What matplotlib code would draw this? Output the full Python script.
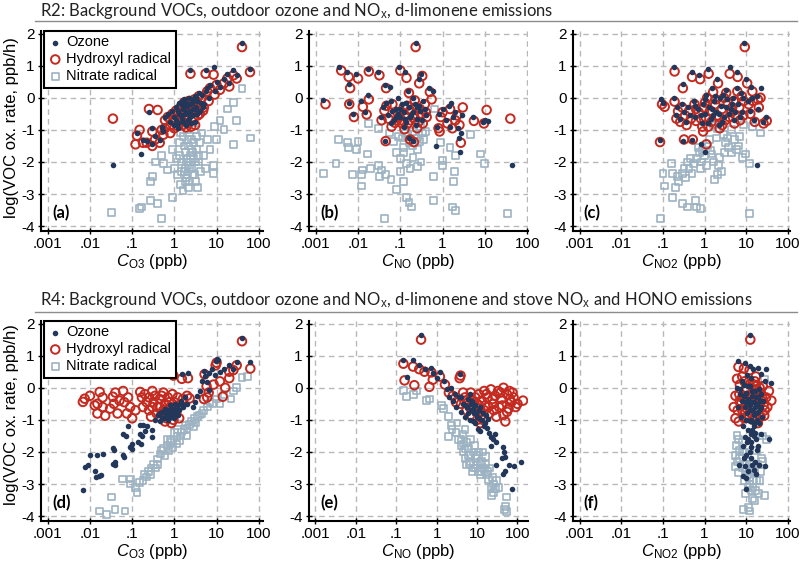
import matplotlib
matplotlib.use('Agg')
import matplotlib.pyplot as plt
import numpy as np
from matplotlib.lines import Line2D
from matplotlib.ticker import NullLocator

plt.rcParams['font.family'] = ['Liberation Sans', 'DejaVu Sans']
plt.rcParams['axes.unicode_minus'] = False
plt.rcParams['mathtext.fontset'] = 'custom'
plt.rcParams['mathtext.rm'] = 'Liberation Sans'
plt.rcParams['mathtext.it'] = 'Liberation Sans:italic'

# (x in ppb, log10 VOC oxidation rate) pairs
# ---- R2, panel (a): vs C_O3
a_o3 = [(0.035, -2.1), (0.16, -1.75), (0.13, -1.1), (0.18, -1.3), (0.22, -1.35), (0.3, -1.45),
        (0.3, -0.95), (0.35, -1.2), (0.45, -1.3), (0.5, -0.9), (0.55, -1.05), (0.6, -0.6),
        (0.7, -0.5), (0.8, -0.75), (0.9, -0.4), (1.0, -0.6), (1.1, -0.3), (1.2, -0.8), (1.3, -0.5),
        (1.4, -0.2), (1.5, -0.65), (1.6, -0.35), (1.7, -0.05), (1.8, -0.5), (2.0, -0.25),
        (2.1, -0.7), (2.2, 0.0), (2.4, -0.4), (2.4, 0.85), (2.6, -0.15), (2.8, -0.55), (3.0, 0.05),
        (3.2, -0.3), (3.5, -0.1), (3.8, 0.15), (4.0, -0.4), (4.5, 0.1), (5.0, -0.2), (5.5, 0.85),
        (6.0, 0.3), (6.5, 0.0), (7.0, 0.4), (8.5, 0.95), (9.0, 0.2), (10, 0.5), (12, 0.35),
        (15, 0.6), (18, 0.75), (20, 0.45), (25, 0.85), (30, 0.7), (40, 1.7), (62, 0.9),
        (0.25, -0.45), (1.9, -0.85), (2.3, -0.6), (2.7, -0.35), (3.1, -0.75), (3.4, -0.5),
        (1.25, -0.95), (1.55, -0.1), (2.0, -0.45), (2.5, -0.8), (1.1, -0.7), (4.2, -0.15),
        (1.2, -0.4), (1.4, -0.55), (1.6, -0.75), (1.7, -0.3), (1.9, -0.15), (2.1, -0.45),
        (2.3, -0.2), (2.5, -0.55), (2.7, -0.05), (2.9, -0.35), (3.3, 0.0), (3.6, -0.45),
        (1.0, -0.85), (1.3, -0.15), (4.8, -0.3), (5.5, 0.2)]
a_oh = [(0.035, -0.65), (0.13, -1.18), (0.12, -1.45), (0.18, -1.4), (0.22, -1.4), (0.3, -1.5),
        (0.3, -1.05), (0.35, -1.3), (0.45, -1.4), (0.5, -1.0), (0.55, -1.15), (0.6, -0.7),
        (0.7, -0.6), (0.8, -0.85), (0.9, -0.5), (1.0, -0.7), (1.1, -0.4), (1.2, -0.88), (1.3, -0.6),
        (1.4, -0.3), (1.5, -0.75), (1.6, -0.45), (1.7, -0.15), (1.8, -0.6), (2.0, -0.35),
        (2.1, -0.8), (2.2, -0.1), (2.4, -0.5), (2.4, 0.75), (2.6, -0.25), (2.8, -0.65), (3.0, -0.05),
        (3.2, -0.4), (3.5, -0.2), (3.8, 0.05), (4.0, -0.5), (4.5, 0.0), (5.0, -0.3), (5.5, 0.75),
        (6.0, 0.2), (6.5, -0.1), (7.0, 0.3), (8.5, 0.72), (9.0, 0.1), (10, 0.4), (12, 0.25),
        (15, 0.45), (18, 0.6), (20, 0.35), (25, 0.7), (30, 0.6), (40, 1.58), (62, 0.8),
        (0.25, -0.35), (0.4, -0.38), (0.15, -1.0), (1.9, -0.92), (3.1, -0.85), (2.5, -0.9),
        (1.2, -0.5), (1.4, -0.65), (1.6, -0.85), (1.7, -0.4), (1.9, -0.25), (2.1, -0.55),
        (2.3, -0.3), (2.7, -0.15), (2.9, -0.45), (3.3, -0.1), (3.6, -0.55), (1.0, -0.95),
        (4.8, -0.4), (0.8, -1.1), (0.6, -0.95)]
a_no3 = [(0.033, -3.57), (0.15, -3.45), (0.17, -3.4), (0.27, -3.2), (0.4, -3.3), (0.5, -3.75),
         (0.9, -3.1), (0.27, -2.6), (0.3, -2.45), (0.35, -2.0), (0.5, -1.8), (0.55, -2.05),
         (0.7, -2.25), (0.9, -1.6), (1.0, -2.2), (1.1, -1.9), (1.2, -2.4), (1.3, -1.4), (1.4, -2.7),
         (1.5, -2.0), (1.6, -1.2), (1.7, -2.3), (1.8, -1.7), (1.9, -2.5), (2.0, -1.0), (2.1, -2.1),
         (2.2, -1.5), (2.3, -2.6), (2.4, -1.8), (2.5, -2.2), (2.6, -1.3), (2.8, -1.9), (3.0, -2.4),
         (3.0, -1.0), (3.3, -1.6), (3.5, -2.8), (3.7, -2.0), (4.0, -1.4), (4.5, -1.1), (5.0, -1.8),
         (5.5, -2.2), (6.0, -1.3), (7.0, -1.6), (8.5, -2.1), (8.5, -2.35), (9.0, -0.9), (10, -1.3),
         (12, -0.7), (15, -1.0), (18, -0.35), (25, -0.15), (25, -1.45), (30, -0.7), (40, 0.3),
         (65, -1.25), (2.2, -2.8), (1.6, -2.9), (1.3, -1.8), (1.8, -2.2), (2.7, -1.7), (2.0, -2.4),
         (1.5, -2.3), (1.7, -1.5), (1.9, -2.0), (2.1, -1.3), (2.3, -2.2), (2.5, -1.6), (2.7, -2.4),
         (2.9, -1.4), (3.1, -2.0), (3.4, -1.2), (3.8, -1.8), (4.2, -2.3), (1.8, -2.6), (2.4, -2.0),
         (3.2, -2.6), (1.4, -1.1), (2.0, -1.9)]

# ---- R2, panel (b): vs C_NO
b_o3 = [(0.0015, -0.07), (0.0035, 0.96), (0.0056, 0.8), (0.009, 0.75), (0.017, 0.9), (0.006, 0.42),
        (0.006, -0.15), (0.0075, -0.5), (0.012, -0.1), (0.017, 0.1), (0.015, -0.45), (0.03, 0.8),
        (0.044, 0.4), (0.057, 0.35), (0.044, -1.35), (0.04, -0.3), (0.05, -0.55), (0.06, -0.1),
        (0.07, -0.7), (0.08, -0.35), (0.09, 0.0), (0.095, 0.95), (0.1, -0.6), (0.11, -0.2),
        (0.12, -0.45), (0.13, 0.8), (0.14, -0.75), (0.15, 0.2), (0.16, -0.3), (0.16, -1.25),
        (0.18, -0.55), (0.2, -1.35), (0.2, 0.0), (0.22, -0.2), (0.23, 1.7), (0.25, -0.65),
        (0.27, 0.6), (0.3, -0.4), (0.31, 0.75), (0.35, -0.1), (0.4, -0.55), (0.47, 0.3), (0.6, 0.2),
        (0.7, -1.5), (0.75, -0.9), (0.8, -0.5), (1.0, -0.35), (1.2, -0.7), (1.4, -0.25),
        (1.6, -0.15), (1.5, -0.9), (1.8, -0.6), (2.0, -0.45), (2.3, -0.95), (2.4, -1.25),
        (2.7, -1.1), (2.6, -1.7), (2.8, -0.55), (5.2, -0.6), (9.0, -0.75), (10, -0.7), (12, -0.72),
        (45, -2.1), (0.09, -0.5), (0.13, -0.65), (0.25, -0.3), (0.065, -0.4),
        (0.06, -0.8), (0.08, -0.6), (0.1, -0.35), (0.12, -0.9), (0.14, -0.15), (0.17, -0.6),
        (0.2, -0.45), (0.24, -0.85), (0.28, -0.25), (0.33, -0.7), (0.38, -0.35), (0.045, -0.15),
        (0.035, -0.6)]
b_oh = [(0.0017, -0.2), (0.004, 0.85), (0.006, 0.65), (0.01, 0.6), (0.018, 0.82), (0.0065, 0.3),
        (0.0062, -0.2), (0.008, -0.6), (0.013, -0.28), (0.018, -0.05), (0.016, -0.52), (0.032, 0.7),
        (0.046, 0.3), (0.045, -1.35), (0.042, -0.4), (0.052, -0.65), (0.065, -0.2), (0.075, -0.78),
        (0.085, -0.45), (0.1, 0.85), (0.105, -0.7), (0.12, -0.3), (0.13, -0.55), (0.14, 0.62),
        (0.15, -0.8), (0.16, 0.15), (0.17, -0.4), (0.17, -1.3), (0.2, -0.62), (0.21, -1.38),
        (0.22, -0.08), (0.24, -0.3), (0.23, 1.58), (0.27, -0.75), (0.28, 0.45), (0.32, -0.5),
        (0.33, 0.68), (0.38, -0.2), (0.42, -0.6), (0.5, 0.18), (0.55, -0.05), (0.8, -0.95),
        (0.85, -1.05), (0.9, -0.6), (1.0, -0.45), (1.3, -0.8), (1.5, -0.35), (1.7, -0.95),
        (2.0, -0.7), (2.2, -0.55), (2.5, -0.85), (2.7, -1.4), (3.0, -0.3), (5.5, -0.72),
        (9.5, -0.8), (11, -0.38), (40, -0.65), (0.095, -0.6), (0.11, -0.8),
        (0.062, -0.9), (0.083, -0.7), (0.1, -0.45), (0.125, -0.98), (0.145, -0.25), (0.175, -0.7),
        (0.21, -0.55), (0.25, -0.95), (0.29, -0.35), (0.34, -0.8), (0.4, -0.45), (0.047, -0.25),
        (0.036, -0.7)]
b_no3 = [(0.0015, -2.35), (0.003, -2.05), (0.0035, -1.3), (0.0056, -1.4), (0.006, -1.55),
         (0.0075, -2.4), (0.009, -1.6), (0.01, -1.35), (0.012, -2.75), (0.012, -2.4), (0.013, -2.25),
         (0.017, -1.75), (0.02, -2.2), (0.018, -0.8), (0.03, -0.95), (0.03, -2.1), (0.032, -2.45),
         (0.036, -2.25), (0.045, -2.4), (0.042, -3.75), (0.055, -1.1), (0.06, -2.55), (0.07, -1.35),
         (0.08, -1.7), (0.08, -2.85), (0.1, -1.9), (0.1, -2.3), (0.12, -1.55), (0.12, -2.6),
         (0.14, -2.05), (0.14, -3.1), (0.16, -3.25), (0.18, -3.4), (0.17, -2.2), (0.2, -1.85),
         (0.25, -2.15), (0.28, -1.35), (0.31, -2.0), (0.33, -1.1), (0.65, -0.35), (0.62, -2.45),
         (0.62, -3.2), (0.9, -1.4), (1.0, -1.95), (1.0, -2.1), (1.5, -1.55), (1.8, -2.6),
         (1.9, -2.3), (1.7, -3.4), (2.0, -3.5), (2.0, -1.8), (4.5, -1.15), (8, -1.75), (10, -2.05),
         (35, -3.6), (0.15, -1.2), (0.2, -1.05), (0.25, -1.25), (0.09, -1.2), (0.3, -0.9),
         (0.11, -1.25), (0.13, -1.1), (0.16, -1.4), (0.19, -1.5), (0.22, -1.15), (0.26, -1.6),
         (0.35, -1.3), (0.12, -1.7), (0.4, -1.05)]

# ---- R2, panel (c): vs C_NO2
c_o3 = [(0.083, -1.33), (0.09, -0.05), (0.1, -0.15), (0.18, 0.96), (0.18, 0.0), (0.2, -0.55),
        (0.22, -0.3), (0.25, -0.65), (0.28, -0.2), (0.3, 0.42), (0.3, -1.35), (0.32, -0.45),
        (0.35, -0.75), (0.4, -0.3), (0.45, -0.55), (0.5, 0.8), (0.5, -1.3), (0.55, -0.1),
        (0.6, -0.6), (0.7, -0.35), (0.75, 0.7), (0.8, -1.45), (0.85, -0.8), (0.9, -0.2),
        (1.0, -1.7), (1.0, -0.5), (1.1, 0.1), (1.2, 0.9), (1.3, -0.3), (1.4, -0.65), (1.5, 0.3),
        (1.7, -0.1), (1.9, -0.45), (2.0, 0.6), (2.2, -0.85), (2.5, -0.25), (2.8, 0.1), (3.0, -0.6),
        (3.5, -0.05), (4.0, 0.95), (4.2, -0.35), (4.8, 0.0), (5.0, -0.7), (6.0, 0.8), (6.5, -0.2),
        (7.5, 0.15), (8.0, -0.45), (9.0, 1.7), (10, 0.6), (11, -0.1), (13, 0.35), (15, -0.7),
        (18, 0.05), (19, -0.35), (18, -2.1), (23, 0.3), (25, -0.75), (30, -0.6), (1.6, -0.55),
        (2.4, 0.0), (3.3, -0.3),
        (0.6, -0.25), (0.8, -0.55), (1.0, -0.05), (1.2, -0.8), (1.5, -0.35), (1.8, 0.05),
        (2.2, -0.5), (2.6, -0.75), (3.2, 0.25), (3.8, -0.5), (4.5, -0.2), (5.5, -0.45), (6.0, 0.3),
        (7.0, -0.6), (8.5, 0.0), (12, -0.4), (14, 0.0)]
c_oh = [(0.085, -1.38), (0.095, -0.2), (0.11, -0.28), (0.19, 0.82), (0.19, -0.12), (0.21, -0.65),
        (0.23, -0.42), (0.26, -0.75), (0.29, -0.3), (0.3, 0.3), (0.32, -1.3), (0.34, -0.55),
        (0.37, -0.85), (0.42, -0.42), (0.47, -0.65), (0.5, 0.65), (0.52, -1.3), (0.57, -0.2),
        (0.62, -0.72), (0.72, -0.45), (0.78, 0.58), (0.88, -0.9), (0.92, -1.05), (0.95, -0.3),
        (1.1, -1.45), (1.05, -0.6), (1.15, 0.0), (1.25, 0.75), (1.35, -0.4), (1.45, -0.75),
        (1.6, 0.18), (1.8, -0.2), (2.0, -0.55), (2.1, 0.45), (2.3, -0.95), (2.6, -0.35), (2.9, 0.0),
        (3.1, -0.7), (3.6, -0.15), (4.0, 0.75), (4.4, -0.45), (5.0, -0.1), (5.2, -0.8), (6.2, 0.65),
        (6.8, -0.3), (7.8, 0.05), (8.5, -0.55), (9.2, 1.58), (10.5, 0.45), (11.5, -0.2), (14, 0.2),
        (16, -0.75), (19, -0.05), (20, -0.3), (22, 0.0), (26, -0.8), (31, -0.72),
        (0.62, -0.35), (0.82, -0.65), (1.02, -0.15), (1.22, -0.9), (1.52, -0.45), (1.85, -0.05),
        (2.25, -0.6), (2.65, -0.85), (3.3, 0.15), (3.9, -0.6), (4.6, -0.3), (5.6, -0.55),
        (6.1, 0.2), (7.1, -0.7), (8.7, -0.1), (12.5, -0.5), (14.5, -0.1)]
c_no3 = [(0.088, -3.75), (0.1, -2.35), (0.11, -2.75), (0.16, -2.05), (0.17, -3.1), (0.17, -2.35),
         (0.2, -2.8), (0.22, -2.45), (0.24, -2.6), (0.3, -3.3), (0.38, -3.4), (0.3, -2.35),
         (0.32, -2.2), (0.38, -2.0), (0.45, -1.9), (0.5, -2.35), (0.6, -3.2), (0.65, -3.4),
         (0.8, -3.45), (0.7, -1.55), (0.9, -1.65), (1.0, -1.8), (1.1, -2.1), (1.2, -1.5),
         (1.3, -1.3), (1.4, -1.65), (1.6, -2.0), (1.7, -2.55), (2.0, -2.4), (2.3, -1.85),
         (2.6, -2.3), (2.8, -1.15), (3.2, -1.4), (3.7, -1.55), (4.5, -1.7), (4.5, -1.0),
         (5.2, -1.3), (6.5, -1.5), (8, -1.85), (8.5, -0.85), (9.5, -1.75), (12, -2.05), (14, -0.9),
         (22, -1.1), (12, -3.6), (1.6, -0.85), (2.0, -0.95), (0.8, -2.2), (1.9, -1.25), (3.0, -1.7),
         (0.35, -2.5), (0.42, -2.2), (0.55, -2.05), (0.65, -1.9), (0.75, -1.7), (0.85, -2.0),
         (1.5, -1.75), (2.2, -2.1), (3.5, -1.25), (5.8, -1.6), (7, -1.2)]

# ---- R4, panel (d): vs C_O3
d_o3 = [(0.0068, -3.18), (0.0075, -2.48), (0.009, -2.4), (0.013, -2.58), (0.014, -2.78),
        (0.016, -2.75), (0.01, -2.1), (0.015, -2.08), (0.02, -2.06), (0.018, -2.72), (0.035, -1.88),
        (0.037, -1.95), (0.035, -2.38), (0.04, -2.4), (0.04, -2.3), (0.06, -2.08), (0.065, -2.15),
        (0.09, -1.83), (0.1, -1.9), (0.06, -1.43), (0.07, -1.5), (0.08, -1.2), (0.14, -1.68),
        (0.16, -1.75), (0.1, -1.75), (0.15, -1.44), (0.17, -1.5), (0.2, -1.35), (0.22, -1.2),
        (0.18, -1.17), (0.3, -1.52), (0.3, -1.3), (0.15, -1.15), (0.35, -1.0), (0.4, -0.85),
        (0.45, -1.05), (0.5, -0.75), (0.55, -0.95), (0.6, -0.65), (0.65, -0.85), (0.7, -1.0),
        (0.75, -0.7), (0.8, -0.55), (0.85, -0.9), (0.9, -0.75), (1.0, -0.65), (1.1, -0.85),
        (1.2, -0.55), (1.3, -0.7), (1.4, -0.4), (1.6, -0.6), (1.8, -0.3), (2.0, -0.5), (2.8, -0.6),
        (3.0, -0.45), (3.5, -0.25), (4.0, -0.1), (4.5, 0.2), (5.0, 0.53), (5.2, 0.37), (6.0, 0.19),
        (6.5, -0.06), (6.5, 0.45), (8.0, 0.6), (9.0, 0.4), (9.5, 0.83), (10, 0.9), (11, 0.85),
        (12, 0.5), (15, 0.6), (20, 0.7), (25, 0.58), (30, 0.8), (40, 1.55), (63, 0.8),
        (0.95, 0.53), (1.5, 0.42), (2.1, 0.45), (0.5, -0.95), (0.7, -0.8), (1.0, -0.95),
        (0.6, -0.95), (0.75, -0.9), (0.85, -0.65), (0.95, -0.8), (1.05, -0.5), (1.15, -0.7),
        (1.25, -0.85), (1.5, -0.5), (0.65, -0.7), (0.45, -0.8)]
d_oh = [(0.0075, -0.34), (0.0068, -0.44), (0.015, -0.5), (0.013, -0.55), (0.017, -0.13),
        (0.015, -0.8), (0.023, -0.87), (0.02, -0.3), (0.035, -0.28), (0.037, -0.5), (0.03, -0.65),
        (0.045, -0.8), (0.05, -0.4), (0.061, -0.1), (0.065, -0.45), (0.075, -0.8), (0.09, -0.6),
        (0.08, -0.3), (0.1, -0.95), (0.12, -0.7), (0.155, -0.13), (0.17, -0.3), (0.2, -0.2),
        (0.22, -0.45), (0.25, -0.7), (0.28, -0.9), (0.3, -0.1), (0.32, -0.45), (0.35, -0.25),
        (0.4, -0.6), (0.45, -0.35), (0.5, -0.8), (0.55, -0.15), (0.6, -0.5), (0.65, -0.95),
        (0.7, -0.3), (0.8, -0.6), (0.85, -1.1), (0.9, -0.2), (1.0, -0.45), (1.1, -0.8), (1.2, -0.3),
        (1.4, -0.55), (1.6, -0.35), (2.0, -0.25), (2.3, -0.33), (0.95, 0.38), (1.5, 0.28),
        (2.1, 0.3), (5.0, -0.35), (5.8, 0.05), (6.0, -0.3), (6.5, -0.15), (8.5, 0.1), (12, 0.2),
        (14, -0.28), (16, 0.0), (20, 0.3), (20, 0.5), (25, 0.55), (30, 0.7), (40, 1.45), (63, 0.6),
        (0.02, -0.6), (0.04, -0.15), (0.01, -0.25), (5.2, 0.42), (9.5, 0.7), (10, 0.78),
        (0.3, -0.6), (0.38, -0.8), (0.45, -0.6), (0.55, -0.7), (0.6, -1.05), (0.75, -0.45),
        (0.95, -1.0), (1.05, -0.65), (1.3, -0.95), (0.7, -0.8), (0.5, -0.25), (0.25, -0.3),
        (0.18, -0.6)]
d_no3 = [(0.017, -3.84), (0.025, -3.94), (0.033, -3.4), (0.039, -3.78), (0.068, -3.84),
         (0.06, -2.84), (0.09, -2.84), (0.09, -3.0), (0.12, -3.1), (0.13, -3.25), (0.15, -2.94),
         (0.18, -2.9), (0.22, -2.78), (0.24, -2.6), (0.27, -2.7), (0.32, -2.38), (0.39, -2.22),
         (0.4, -2.4), (0.46, -2.06), (0.55, -1.9), (0.6, -2.1), (0.68, -1.8), (0.75, -1.95),
         (0.8, -1.65), (0.9, -1.85), (1.1, -1.75), (1.15, -1.53), (1.3, -1.65), (1.5, -1.38),
         (1.8, -1.18), (2.0, -1.5), (2.0, -1.28), (2.6, -1.06), (2.8, -1.2), (3.2, -1.1),
         (3.5, -0.9), (6, -0.6), (7, -0.45), (10, -0.35), (15, -0.2), (22, -0.35), (25, -0.1),
         (30, 0.0), (40, 0.33), (55, 0.35), (1.0, -1.4), (0.7, -1.6), (1.2, -1.3), (0.35, -2.5),
         (4.5, -0.8), (12, -0.5),
         (0.5, -1.95), (0.85, -1.7), (1.4, -1.5), (1.7, -1.3), (2.3, -1.15), (3.0, -0.95),
         (4.0, -0.85), (5, -0.7), (8, -0.5), (0.28, -2.5), (0.2, -2.7)]

# ---- R4, panel (e): vs C_NO
e_o3 = [(0.41, 1.63), (0.15, 0.88), (0.26, 0.86), (0.37, 0.7), (0.18, 0.34), (0.5, 0.6), (0.74, 0.62),
        (1.2, 0.5), (1.55, 0.2), (1.8, -0.05), (3.7, 0.44), (2.0, -0.28), (2.2, 0.0), (2.5, -0.4),
        (2.8, -0.2), (3.0, -0.6), (3.5, -0.3), (4.0, -0.75), (4.5, -0.5), (5, -0.9), (5.5, -0.6),
        (6, -0.35), (6.5, -1.0), (7, -0.7), (7.5, -0.4), (8, -1.03), (8.5, -0.8), (9, -0.55),
        (10, -0.9), (10.5, -1.28), (11, -0.7), (12, -1.36), (13, -1.0), (15, -1.2), (17, -0.85),
        (19, -0.97), (22, -1.53), (25, -1.6), (30, -1.7), (22, -1.8), (28, -1.45), (45, -1.85),
        (47, -2.0), (50, -2.15), (42, -2.2), (125, -2.3), (80, -2.45), (60, -2.4), (30, -2.4),
        (50, -2.6), (44, -2.68), (75, -3.15), (0.8, 0.45), (1.0, 0.3),
        (4, -0.3), (5, -0.55), (6, -0.8), (7, -0.5), (8, -0.65), (9, -1.1), (11, -0.95), (12, -0.6),
        (14, -0.8), (16, -1.1), (18, -1.25), (20, -1.4), (6.5, -0.2), (9.5, -0.8)]
e_oh = [(0.41, 1.5), (0.15, 0.75), (0.26, 0.66), (0.37, 0.58), (0.16, 0.23), (0.28, 0.08), (0.5, 0.5),
        (0.74, 0.48), (1.2, 0.35), (0.66, 0.03), (0.8, 0.25), (3.7, 0.3), (3.9, 0.38), (1.6, 0.1),
        (2.0, -0.15), (2.5, -0.25), (3, -0.45), (4, -0.5), (5, -0.3), (5.5, -0.7), (6, -0.45),
        (7, -0.15), (7.5, -0.9), (8, -0.6), (9, -0.3), (10, -1.0), (10, -0.5), (11, -0.2),
        (12, -0.75), (13, -0.4), (14, -1.0), (15, -0.1), (16, -0.55), (18, -0.3), (20, -0.8),
        (22, -0.05), (25, -0.5), (28, -0.25), (30, -0.9), (33, -0.1), (35, -0.6), (40, -0.35),
        (45, -0.85), (50, -1.05), (55, -0.2), (60, -0.65), (63, -0.1), (70, -0.45), (80, -0.3),
        (90, -0.6), (137, -0.4), (45, 0.0), (12, -1.1),
        (4.5, -0.15), (5.5, -0.4), (6.5, -0.6), (8.5, -0.45), (9.5, -0.75), (11, -0.55),
        (13, -0.85), (15, -0.7), (17, -0.2), (19, -0.6), (24, -0.35), (26, -0.7), (38, -0.15),
        (42, -0.55), (55, -0.75), (65, -0.35), (75, -0.15), (100, -0.5)]
e_no3 = [(0.15, -0.08), (0.18, -0.28), (0.27, -0.2), (0.32, -0.1), (0.55, -0.4), (0.65, -0.35),
         (1.3, -0.55), (1.45, -0.65), (2.0, -0.9), (2.3, -1.17), (2.4, -1.3), (2.0, -1.53),
         (3.0, -1.4), (3.5, -1.6), (4.0, -1.8), (4.5, -2.0), (5.0, -2.2), (5.5, -1.7), (6.0, -1.9),
         (6.5, -2.35), (7, -2.1), (8, -2.5), (8.5, -1.8), (9, -2.2), (10, -2.4), (11, -2.0),
         (12, -2.7), (13, -2.3), (15, -2.55), (16, -2.15), (19, -2.85), (20, -2.5), (22, -3.1),
         (25, -3.25), (23, -3.35), (30, -2.9), (53, -3.4), (48, -3.78), (53, -3.85), (50, -3.7),
         (7, -1.6), (4.5, -1.45), (3.2, -1.1), (5, -1.3), (14, -2.0), (17, -2.7), (26, -3.0),
         (35, -3.1),
         (4, -1.6), (5, -1.9), (6, -2.1), (7, -2.3), (8, -2.0), (9, -2.5), (10, -2.1), (11, -2.6),
         (12, -2.35), (13, -2.6), (16, -2.4), (18, -2.6), (5.5, -2.4), (7.5, -2.6), (24, -2.8),
         (28, -3.15), (4.5, -1.75)]

# ---- R4, panel (f): vs C_NO2
f_o3 = [(12.5, 1.63), (6.5, 0.84), (9.5, 0.78), (12, 0.68), (14.5, 0.58), (19, 0.63), (22, 0.42),
        (28, 0.2), (10.5, 0.4), (13, 0.3), (6, 0.0), (7, -0.2), (8, -0.4), (9, 0.1), (9.5, -0.6),
        (10, -0.15), (10.5, -0.8), (11, -0.35), (12, 0.05), (12.5, -0.55), (13, -1.0), (13.5, -0.25),
        (14, -0.7), (15, -0.45), (15.5, -1.2), (16, -0.1), (17, -0.8), (18, -0.5), (19, -0.3),
        (20, -1.1), (21, -0.65), (22, -0.2), (24, -0.9), (7.5, -0.9), (8.5, -1.2), (11, -1.3),
        (6.5, -0.6), (25, -0.4), (30, 0.6), (40, 0.15), (9.5, -1.54), (13, -1.45), (15, -1.5),
        (17.5, -1.6), (22, -1.45), (8.3, -1.8), (10.5, -1.7), (13, -1.85), (10, -2.1), (13, -2.2),
        (16, -2.3), (6.6, -2.4), (9.5, -2.45), (17.5, -2.7), (8.3, -2.75), (10, -2.8), (10, -3.15),
        (20, -2.4), (28, -2.45), (35, -1.6), (18, -1.95), (15, -1.1),
        (7, -0.05), (8, 0.2), (9, -0.25), (10, -0.45), (11, 0.05), (12, -0.7), (13, -0.45),
        (14, -0.1), (15, -0.85), (16, -0.6), (17, -0.3), (18, -1.0), (19, -0.75), (20, -0.05),
        (21, -0.4), (23, -0.6), (12, -1.05), (14, -1.3), (10, -1.0), (16, -1.4), (11, -1.6),
        (13, -1.7), (19, -1.8), (12, -2.0), (14, -2.4), (15, -2.55), (9, -2.2), (11, -2.6)]
f_oh = [(12.5, 1.5), (6, 0.28), (6.5, 0.65), (8.8, 0.6), (12, 0.55), (17, 0.35), (22, -0.15),
        (23, -0.4), (26, -0.55), (28, -0.7), (27, -0.87), (5.5, -0.25), (5.0, -0.6), (5.5, -0.95),
        (6.6, -1.05), (19, -1.1), (22, -0.9), (7, 0.1), (8, -0.3), (9, -0.7), (10, 0.0),
        (11, -0.45), (12, -0.9), (13, -0.2), (14, -0.6), (15, 0.1), (16, -0.35), (17, -0.75),
        (18, -0.05), (20, -0.5), (7.5, -0.5), (9.5, -0.1), (10.5, -0.65), (12.5, -0.3),
        (14.5, -1.0), (16, 0.2), (30, -0.3), (35, -0.1), (32, -0.6), (40, -0.4), (8, 0.35),
        (7, -0.4), (8, -0.7), (9, 0.2), (10, -0.3), (11, -0.85), (12, 0.1), (13, -0.6), (14, -0.25),
        (15, -0.55), (16, -0.9), (17, 0.05), (18, -0.4), (19, -0.7), (20, -0.2), (21, 0.0),
        (24, -0.3), (9, -0.95), (6.2, -0.7), (6.8, -0.2), (25, 0.05)]
f_no3 = [(6, -1.48), (6.6, -1.6), (8, -1.7), (5.7, -1.8), (7, -1.95), (5.6, -2.1), (6, -2.3),
         (5.5, -2.45), (6.5, -2.65), (9, -2.9), (12, -3.0), (14.5, -3.1), (18, -2.9), (22, -2.6),
         (27, -3.35), (20, -3.3), (14, -3.45), (16, -3.5), (11.5, -3.72), (8.5, -3.78), (12, -3.84),
         (25, -2.3), (23, -2.2), (18, -1.95), (16, -2.6), (12, -2.4), (14, -2.55), (9, -2.0),
         (10, -2.3), (11, -2.7), (8, -2.5), (30, -1.6), (25, -1.5), (22, -0.2), (28, 0.25),
         (20, -0.3), (7, -0.5),
         (7, -2.2), (8, -2.0), (9, -2.4), (10, -2.6), (12, -2.8), (13, -3.2), (15, -2.9), (17, -3.2),
         (19, -2.4), (21, -2.9), (9.5, -3.3), (11, -3.1)]

titles = [r'R2: Background VOCs, outdoor ozone and NO$_\mathrm{x}$, d-limonene emissions',
          r'R4: Background VOCs, outdoor ozone and NO$_\mathrm{x}$, d-limonene and stove NO$_\mathrm{x}$ and HONO emissions']
xlabels = [r'$C_{\mathrm{O3}}$ (ppb)', r'$C_{\mathrm{NO}}$ (ppb)', r'$C_{\mathrm{NO2}}$ (ppb)']
xticks = [1e-3, 1e-2, 1e-1, 1, 10, 100]
xticklabels = ['.001', '.01', '.1', '1', '10', '100']

COL_O3 = '#22375a'
COL_OH = '#c42a1f'
COL_NO3 = '#9db2c2'


def draw_panel(ax, o3, oh, no3, tag, xlab, xmax, legend=False):
    o3 = np.array(o3)
    oh = np.array(oh)
    no3 = np.array(no3)
    ax.scatter(no3[:, 0], no3[:, 1], s=24, marker='s', facecolors='none', edgecolors=COL_NO3,
               linewidths=1.2, label='Nitrate radical', zorder=3)
    ax.scatter(oh[:, 0], oh[:, 1], s=38, marker='o', facecolors='none', edgecolors=COL_OH,
               linewidths=1.4, label='Hydroxyl radical', zorder=4)
    ax.scatter(o3[:, 0], o3[:, 1], s=16, marker='o', color=COL_O3, linewidths=0,
               label='Ozone', zorder=5)
    ax.set_xscale('log')
    ax.set_xlim(10 ** -3.16, 10 ** xmax)
    ax.set_ylim(-4.15, 2.08)
    ax.set_xticks(xticks)
    ax.set_xticklabels(xticklabels)
    ax.xaxis.set_minor_locator(NullLocator())
    ax.set_yticks([-4, -3, -2, -1, 0, 1, 2])
    ax.grid(True, ls=(0, (4, 3)), color='#b8b8b8', lw=1.0, zorder=0)
    for s in ['top', 'right']:
        ax.spines[s].set_visible(False)
    for s in ['left', 'bottom']:
        ax.spines[s].set_linewidth(1.5)
    ax.tick_params(direction='inout', length=5, width=1, labelsize=11, pad=2)
    ax.set_xlabel(xlab, fontsize=12, labelpad=0.5)
    ax.text(0.05, 0.09, tag, transform=ax.transAxes, fontsize=12, fontweight='bold',
            family=['Lato', 'DejaVu Sans'], va='center')
    if legend:
        h, l = ax.get_legend_handles_labels()
        leg = ax.legend(h[::-1], l[::-1], loc='upper left', bbox_to_anchor=(0.015, 1.0),
                        borderaxespad=0, fancybox=False, edgecolor='black', framealpha=1,
                        fontsize=10.5, handletextpad=0.3, handlelength=0.9, borderpad=0.3,
                        labelspacing=0.2, scatterpoints=1)
        leg.get_frame().set_linewidth(1.5)
        leg.set_zorder(10)


fig = plt.figure(figsize=(8, 5.62), dpi=100)

lefts = [41 / 800, 309 / 800, 573 / 800]
widths = [222 / 800, 219 / 800, 217 / 800]
bottoms = [1 - 231 / 562, 1 - 521 / 562]
height = 200 / 562

panels = [[(a_o3, a_oh, a_no3, '(a)'), (b_o3, b_oh, b_no3, '(b)'), (c_o3, c_oh, c_no3, '(c)')],
          [(d_o3, d_oh, d_no3, '(d)'), (e_o3, e_oh, e_no3, '(e)'), (f_o3, f_oh, f_no3, '(f)')]]
xmaxes = [[2.1, 2.02, 2.05], [2.1, 2.26, 2.05]]

for r in range(2):
    for c in range(3):
        ax = fig.add_axes([lefts[c], bottoms[r], widths[c], height])
        o3, oh, no3, tag = panels[r][c]
        draw_panel(ax, o3, oh, no3, tag, xlabels[c], xmaxes[r][c], legend=(c == 0))

# row titles with grey rule below
for r, (ty, ly) in enumerate([(11, 21), (300, 312)]):
    fig.text(40 / 800, 1 - ty / 562, titles[r], fontsize=12, va='center', ha='left',
             family=['Lato', 'DejaVu Sans'], color='#222222')
    fig.add_artist(Line2D([35 / 800, 797 / 800], [1 - ly / 562, 1 - ly / 562],
                          transform=fig.transFigure, color='#8c8c8c', lw=1.0))

for yc in [128, 415]:
    fig.text(12 / 800, 1 - yc / 562, 'log(VOC ox. rate, ppb/h)', rotation=90, fontsize=12,
             va='center', ha='center')

fig.savefig('out.png', dpi=100)
